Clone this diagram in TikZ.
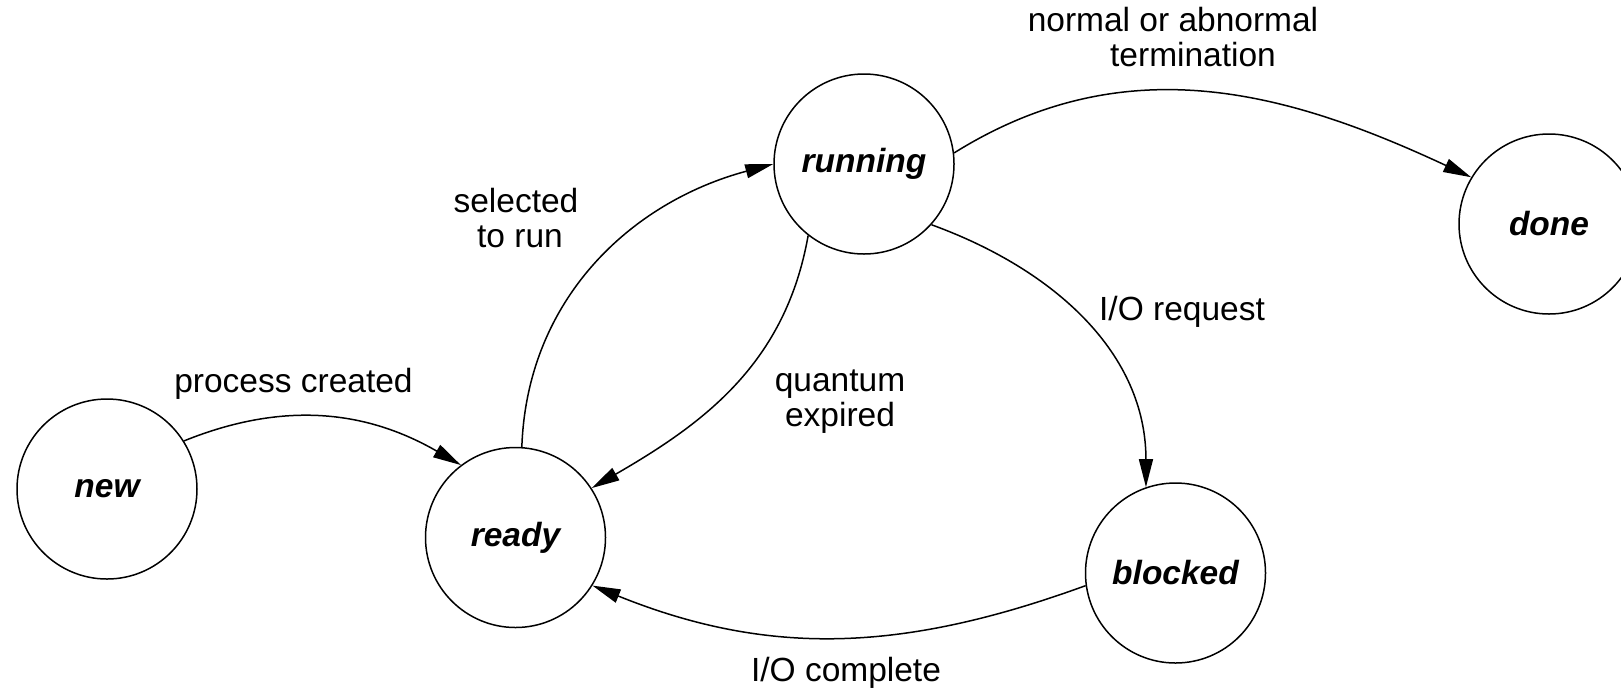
\documentclass[tikz,border=0pt]{standalone}
\usepackage{fontspec}
\setmainfont{Liberation Sans}
\usetikzlibrary{arrows, arrows.meta}

\begin{document}
\begin{tikzpicture}[x=0.5pt,y=0.5pt,
  state/.style={draw,circle,line width=0.75pt,minimum size=90pt,inner sep=0pt,
    font=\fontsize{16.75}{17.5}\selectfont\bfseries\itshape},
  trans/.style={line width=0.75pt,-{Triangle[length=14pt,width=7pt]}},
  lbl/.style={inner sep=0pt,align=center,font=\fontsize{16.75}{17.5}\selectfont}]
%\draw[step=50,gray,very thin] (0,0) grid (1621,-692); %background grid
\useasboundingbox (0,0) rectangle (1621,-692);

\node[state] (new)     at (107,-489)     {new};
\node[state] (ready)   at (515.5,-537.5) {ready};
\node[state] (running) at (864,-164)     {running};
\node[state] (done)    at (1549,-224)    {done};
\node[state] (blocked) at (1175.5,-573)  {blocked};

\draw[trans] (new.32)      to[out=22,in=150]  (ready.127);
\draw[trans] (ready.86)    to[out=88,in=195]  (running.180);
\draw[trans] (running.232) to[out=260,in=30]  (ready.33);
\draw[trans] (running.318) to[out=340,in=90]  (blocked.109);
\draw[trans] (running.7)   to[out=32,in=155]  (done.149);
\draw[trans] (blocked.188) to[out=200,in=-22] (ready.328);

\node[lbl,anchor=base] (lcreated)  at (293.5,-392) {process created};
\node[lbl]             (lselected) at (516,-218.5) {selected\\\hspace*{4pt}to run};
\node[lbl]             (lquantum)  at (840,-402)   {quantum\\expired};
\node[lbl,anchor=base] (lrequest)  at (1182,-320)  {I/O request};
\node[lbl,anchor=base] (lcomplete) at (846,-681)   {I/O complete};
\node[lbl]             (lterm)     at (1173,-37.5) {normal or abnormal\\\hspace*{20pt}termination};

\end{tikzpicture}
\end{document}
